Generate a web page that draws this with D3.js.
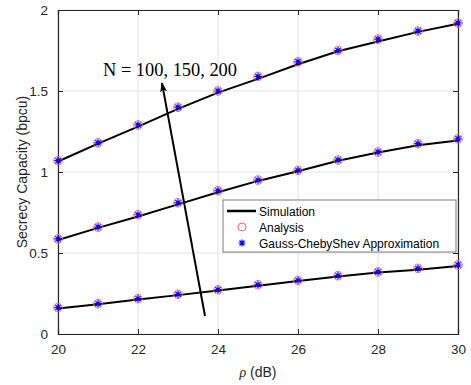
<!DOCTYPE html>
<html>
<head>
<meta charset="utf-8">
<script src="https://d3js.org/d3.v7.min.js"></script>
<style>
  body { margin: 0; background: #fff; }
</style>
</head>
<body>
<div id="chart"></div>
<script>
// 数据
const rho = [20, 21, 22, 23, 24, 25, 26, 27, 28, 29, 30];
const simN200 = [1.065, 1.175, 1.28, 1.39, 1.49, 1.575, 1.665, 1.745, 1.805, 1.865, 1.915];
const anaN200 = [1.07, 1.18, 1.29, 1.40, 1.50, 1.59, 1.68, 1.75, 1.82, 1.87, 1.92];
const simN150 = [0.58, 0.655, 0.725, 0.80, 0.875, 0.945, 1.005, 1.07, 1.12, 1.165, 1.195];
const anaN150 = [0.587, 0.66, 0.736, 0.81, 0.885, 0.95, 1.01, 1.074, 1.123, 1.175, 1.205];
const simN100 = [0.158, 0.183, 0.213, 0.24, 0.268, 0.298, 0.327, 0.355, 0.38, 0.396, 0.42];
const anaN100 = [0.163, 0.187, 0.218, 0.245, 0.273, 0.304, 0.331, 0.36, 0.383, 0.405, 0.426];
const xTicks = [20, 22, 24, 26, 28, 30];
const yTicks = [0, 0.5, 1, 1.5, 2];
const legendItems = ["Simulation", "Analysis", "Gauss-ChebyShev Approximation"];

const W = 471, H = 385;
const m = { left: 58, right: 13, top: 10, bottom: 51 };
const sans = "Liberation Sans, Arial, sans-serif";
const serif = "Liberation Serif, Times New Roman, serif";
const svg = d3.select("#chart").append("svg").attr("width", W).attr("height", H)
  .style("font-family", sans);

const x = d3.scaleLinear().domain([20, 30]).range([m.left, W - m.right]);
const y = d3.scaleLinear().domain([0, 2]).range([H - m.bottom, m.top]);

// 网格
svg.append("g").selectAll("line").data(xTicks).join("line")
  .attr("x1", d => x(d)).attr("x2", d => x(d))
  .attr("y1", y(0)).attr("y2", y(2))
  .attr("stroke", "#e3e3e3").attr("stroke-width", 1);
svg.append("g").selectAll("line").data(yTicks).join("line")
  .attr("x1", x(20)).attr("x2", x(30))
  .attr("y1", d => y(d)).attr("y2", d => y(d))
  .attr("stroke", "#e3e3e3").attr("stroke-width", 1);

// 坐标轴（刻度朝内）
const axColor = "#262626";
const gx = svg.append("g").attr("transform", `translate(0,${y(0)})`)
  .call(d3.axisBottom(x).tickValues(xTicks).tickSize(-5).tickPadding(10).tickFormat(d3.format("d")));
const gxt = svg.append("g").attr("transform", `translate(0,${y(2)})`)
  .call(d3.axisTop(x).tickValues(xTicks).tickSize(-5).tickFormat(""));
const gy = svg.append("g").attr("transform", `translate(${x(20)},0)`)
  .call(d3.axisLeft(y).tickValues(yTicks).tickSize(-5).tickPadding(10).tickFormat(d => d));
const gyr = svg.append("g").attr("transform", `translate(${x(30)},0)`)
  .call(d3.axisRight(y).tickValues(yTicks).tickSize(-5).tickFormat(""));
[gx, gxt, gy, gyr].forEach(g => {
  g.attr("font-family", sans);
  g.select(".domain").attr("stroke", axColor).attr("stroke-width", 1.2);
  g.selectAll(".tick line").attr("stroke", axColor);
  g.selectAll(".tick text").attr("fill", axColor).attr("font-size", 13.5);
});

// 曲线
const line = d3.line().x((d, i) => x(rho[i])).y(d => y(d));
[simN200, simN150, simN100].forEach(s => {
  svg.append("path").datum(s).attr("d", line)
    .attr("fill", "none").attr("stroke", "#000").attr("stroke-width", 2);
});

// 标记
function star(g, cx, cy, r) {
  const p = [];
  for (let k = 0; k < 4; k++) {
    const a = k * Math.PI / 4;
    p.push(`M${cx - r * Math.cos(a)},${cy - r * Math.sin(a)}L${cx + r * Math.cos(a)},${cy + r * Math.sin(a)}`);
  }
  g.append("path").attr("d", p.join("")).attr("stroke", "#0000ff").attr("stroke-width", 1.2).attr("fill", "none");
}
[anaN200, anaN150, anaN100].forEach(s => {
  const g = svg.append("g");
  g.selectAll("circle").data(s).join("circle")
    .attr("cx", (d, i) => x(rho[i])).attr("cy", d => y(d)).attr("r", 4.3)
    .attr("fill", "none").attr("stroke", "#ff6060").attr("stroke-width", 1);
  s.forEach((d, i) => star(g, x(rho[i]), y(d), 3.6));
});

// 箭头与标注
svg.append("defs").append("marker").attr("id", "ah")
  .attr("viewBox", "0 0 10 10").attr("refX", 9).attr("refY", 5)
  .attr("markerWidth", 10).attr("markerHeight", 10).attr("markerUnits", "userSpaceOnUse")
  .attr("orient", "auto")
  .append("path").attr("d", "M0,1.5L10,5L0,8.5L2.5,5Z").attr("fill", "#000");
svg.append("line")
  .attr("x1", x(23.675)).attr("y1", y(0.111))
  .attr("x2", x(22.6)).attr("y2", y(1.549))
  .attr("stroke", "#000").attr("stroke-width", 2).attr("marker-end", "url(#ah)");
svg.append("text").attr("x", x(21.125)).attr("y", y(1.59))
  .style("font-family", serif).attr("font-size", 18.4)
  .text("N = 100, 150, 200");

// 图例
const lg = svg.append("g").attr("transform", "translate(223,200)");
lg.append("rect").attr("width", 233).attr("height", 52)
  .attr("fill", "#fff").attr("stroke", "#7a7a7a").attr("stroke-width", 1);
legendItems.forEach((t, i) => {
  const yy = 11 + i * 16;
  if (i === 0) lg.append("line").attr("x1", 4).attr("x2", 33).attr("y1", yy).attr("y2", yy)
    .attr("stroke", "#000").attr("stroke-width", 2.5);
  if (i === 1) lg.append("circle").attr("cx", 19).attr("cy", yy).attr("r", 4)
    .attr("fill", "none").attr("stroke", "#ff6060");
  if (i === 2) star(lg, 19, yy, 3.5);
  lg.append("text").attr("x", 36).attr("y", yy + 4.5).attr("font-size", 12).attr("fill", "#000").text(t);
});

// 轴标题
svg.append("text").attr("transform", `translate(27,${(y(0) + y(2)) / 2}) rotate(-90)`)
  .attr("text-anchor", "middle").attr("font-size", 14).attr("fill", axColor)
  .text("Secrecy Capacity (bpcu)");
const xl = svg.append("text").attr("x", (x(20) + x(30)) / 2).attr("y", 377)
  .attr("text-anchor", "middle").attr("font-size", 14).attr("fill", axColor);
xl.append("tspan").style("font-family", serif).attr("font-style", "italic").text("ρ");
xl.append("tspan").text(" (dB)");
</script>
</body>
</html>
